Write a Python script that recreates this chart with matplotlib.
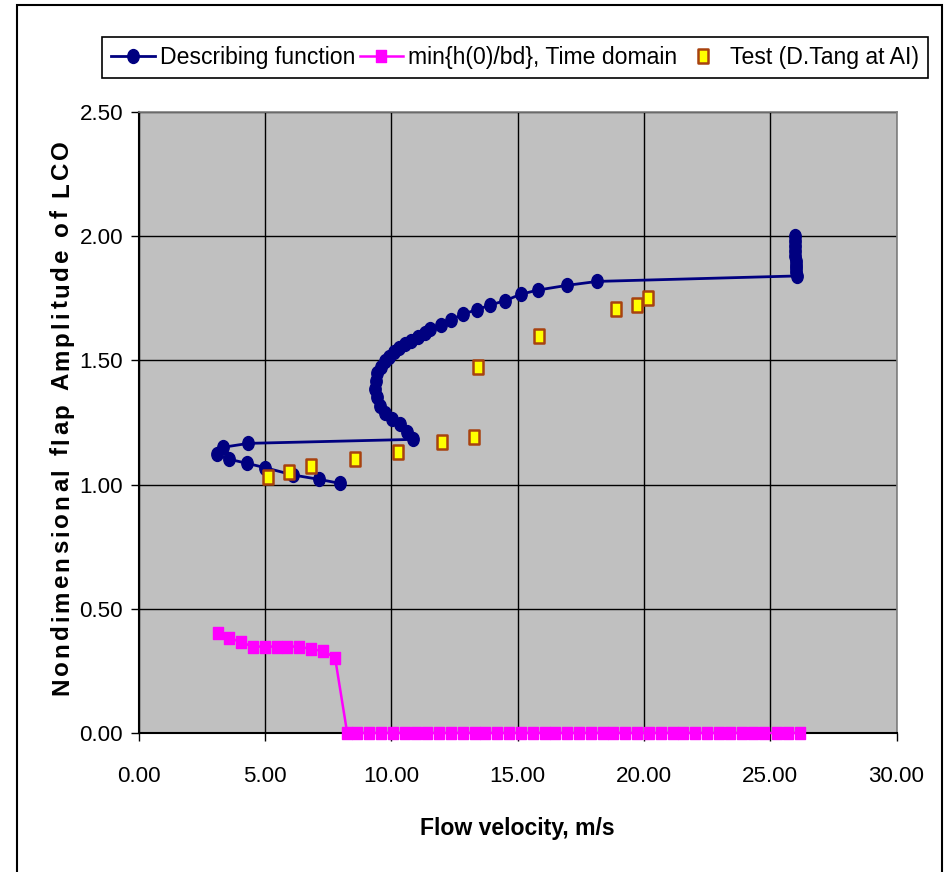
import numpy as np
import matplotlib
matplotlib.use("Agg")
import matplotlib.pyplot as plt
from matplotlib import font_manager
from matplotlib.path import Path
from matplotlib.patches import Rectangle
from matplotlib.textpath import TextToPath
from matplotlib.font_manager import FontProperties

# describing function (ordered by amplitude)
df_v = [7.97, 7.15, 6.10, 5.02, 4.28, 3.59, 3.09, 3.33, 4.35, 10.85,
        10.62, 10.33, 10.04, 9.76, 9.55, 9.42, 9.36, 9.38, 9.45, 9.58,
        9.74, 9.92, 10.12, 10.32, 10.56, 10.80, 11.05, 11.32, 11.55, 11.96,
        12.35, 12.83, 13.38, 13.91, 14.50, 15.12, 15.80, 16.95, 18.16,
        26.05, 26.04, 26.03, 26.02, 26.01, 26.00, 25.99, 25.98, 25.98, 25.97]
df_a = [1.005, 1.021, 1.039, 1.068, 1.086, 1.102, 1.122, 1.150, 1.166, 1.182,
        1.211, 1.244, 1.264, 1.290, 1.318, 1.351, 1.384, 1.418, 1.448, 1.475,
        1.497, 1.515, 1.535, 1.550, 1.565, 1.580, 1.595, 1.610, 1.625, 1.643,
        1.661, 1.687, 1.703, 1.723, 1.740, 1.766, 1.783, 1.802, 1.818,
        1.840, 1.855, 1.870, 1.885, 1.900, 1.920, 1.940, 1.960, 1.980, 2.000]

# min{h(0)/bd}, time domain
td_v = [3.13, 3.59, 4.06, 4.54, 5.01, 5.49, 5.89, 6.36, 6.83, 7.31, 7.78,
        8.26, 8.66, 9.13, 9.58, 10.08, 10.55, 10.98, 11.43, 11.90, 12.38,
        12.85, 13.32, 13.71, 14.17, 14.67, 15.14, 15.60, 16.09, 16.48, 16.97,
        17.44, 17.90, 18.37, 18.77, 19.25, 19.72, 20.21, 20.66, 21.14, 21.56,
        22.02, 22.49, 22.98, 23.43, 23.87, 24.33, 24.75, 25.26, 25.71, 26.18]
td_a = [0.401, 0.384, 0.365, 0.348, 0.348, 0.348, 0.348, 0.348, 0.338, 0.330, 0.303,
        0, 0, 0, 0, 0, 0, 0, 0, 0, 0,
        0, 0, 0, 0, 0, 0, 0, 0, 0, 0,
        0, 0, 0, 0, 0, 0, 0, 0, 0, 0,
        0, 0, 0, 0, 0, 0, 0, 0, 0, 0]

# test data
test_v = [5.14, 5.94, 6.83, 8.58, 10.27, 12.01, 13.29, 13.43, 15.86, 18.90, 19.71, 20.17]
test_a = [1.032, 1.049, 1.076, 1.102, 1.130, 1.173, 1.190, 1.475, 1.598, 1.706, 1.723, 1.750]

xticks = [0, 5, 10, 15, 20, 25, 30]
yticks = [0, 0.5, 1.0, 1.5, 2.0, 2.5]

names = set(f.name for f in font_manager.fontManager.ttflist)
if 'Liberation Sans Narrow' in names:
    fam = ['Liberation Sans Narrow', 'DejaVu Sans']
    k = 1.0
else:
    fam = ['Liberation Sans', 'DejaVu Sans']
    k = 0.87
plt.rcParams['font.family'] = fam

W, H = 947, 872
fig = plt.figure(figsize=(W/100, H/100), dpi=100)
ax = fig.add_axes([138.5/W, (H-733)/H, (896.5-138.5)/W, (733-112)/H])
ax.set_facecolor('#C0C0C0')

circ = Path.unit_circle()
ell = Path(circ.vertices*np.array([0.82, 1.0]), circ.codes)
def rect(w):
    return Path([(-w, -1), (w, -1), (w, 1), (-w, 1), (-w, -1)],
                [Path.MOVETO, Path.LINETO, Path.LINETO, Path.LINETO, Path.CLOSEPOLY])

ax.plot(df_v, df_a, color='#000080', lw=2, marker=ell, markersize=10,
        label='Describing function', clip_on=False, zorder=4)
ax.plot(td_v, td_a, color='#FF00FF', lw=1.8, marker=rect(0.88), markersize=8.2,
        label='min{h(0)/bd}, Time domain', clip_on=False, zorder=3)
ax.plot(test_v, test_a, ls='none', marker=rect(0.72), markersize=10,
        markerfacecolor='#FFFF00', markeredgecolor='#A8420F', markeredgewidth=1.8,
        label='Test (D.Tang at AI)', clip_on=False, zorder=5)

ax.set_xlim(0, 30)
ax.set_ylim(0, 2.5)
ax.set_xticks(xticks)
ax.set_xticklabels(['%.2f' % v for v in xticks])
ax.set_yticks(yticks)
ax.set_yticklabels(['%.2f' % v for v in yticks])
ax.grid(True, color='black', lw=1)
ax.set_axisbelow(True)
ax.tick_params(axis='both', direction='out', length=6, width=1, labelsize=18.5*k, colors='black')
ax.tick_params(axis='x', pad=18)
ax.tick_params(axis='y', pad=5)
for s in ['left', 'bottom']:
    ax.spines[s].set_color('black')
    ax.spines[s].set_linewidth(1.5)
for s in ['top', 'right']:
    ax.spines[s].set_color('#808080')
    ax.spines[s].set_linewidth(1.2)

fig.text(517.5/W, 1-828/H, 'Flow velocity, m/s', ha='center', va='center',
         fontsize=19*k, fontweight='bold')

# letter-spaced y label
ylab = 'Nondimensional flap Amplitude of LCO'
prop = FontProperties(family=fam, weight='bold', size=20*k)
ttp = TextToPath()
base = ttp.get_text_width_height_descent('xx', prop, ismath=False)[0]
widths = [(ttp.get_text_width_height_descent('x'+c+'x', prop, ismath=False)[0] - base)*100/72
          for c in ylab]
total = 555.0
gap = (total - sum(widths))/(len(ylab)-1)
ypos = 695.0
for c, w in zip(ylab, widths):
    fig.text(68/W, 1-ypos/H, c, rotation=90, rotation_mode='anchor',
             ha='left', va='baseline', fontproperties=prop)
    ypos -= w + gap

leg = fig.legend(loc='center', bbox_to_anchor=(515/W, 1-57.5/H), ncol=3,
                 fontsize=19*k, frameon=True, fancybox=False, edgecolor='black',
                 framealpha=1, handlelength=1.9, handletextpad=0.2,
                 columnspacing=0.2, borderpad=0.4, borderaxespad=0)
leg.get_frame().set_linewidth(1.2)

fig.add_artist(Rectangle((17/W, -0.1), (942-17)/W, 1.1-5/H, transform=fig.transFigure,
                         fill=False, edgecolor='black', lw=1.5))

fig.savefig('out.png', dpi=100)
